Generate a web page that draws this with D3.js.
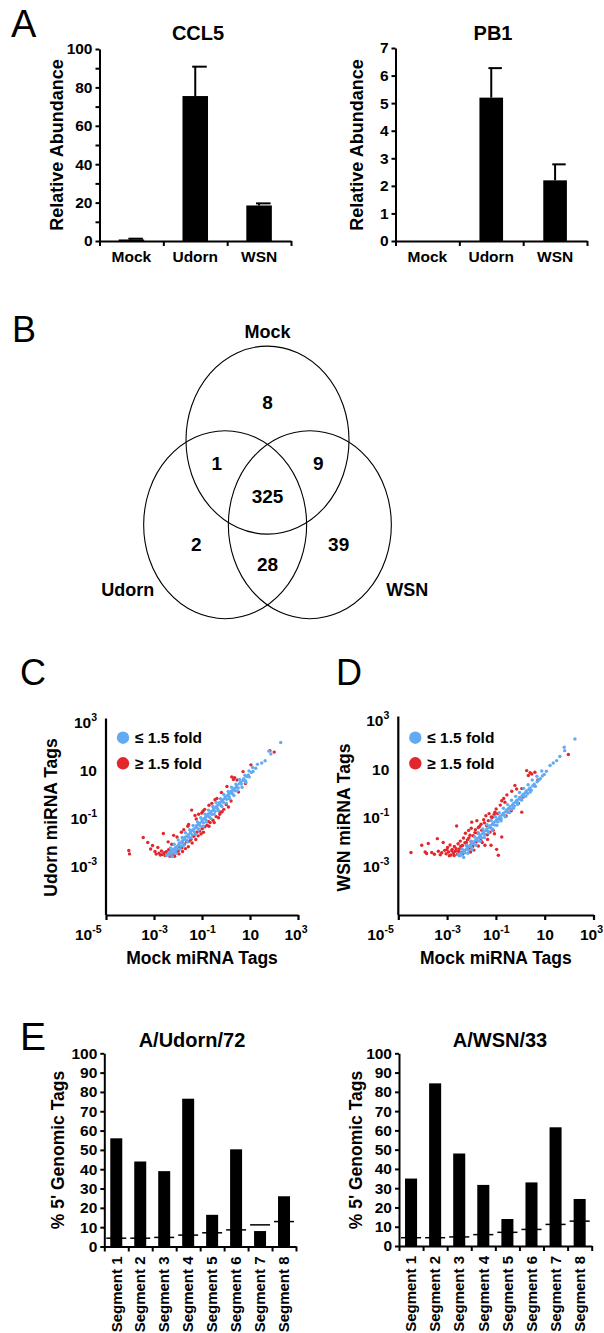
<!DOCTYPE html>
<html><head><meta charset="utf-8">
<script src="https://cdn.jsdelivr.net/npm/d3@7"></script>
<style>
body{margin:0;background:#fff;}
svg{display:block;font-family:"Liberation Sans",Arial,Helvetica,sans-serif;}
</style></head><body>
<svg id="fig" width="604" height="1333"></svg>
<script>
// ================= DATA =================
// Panel A
const groupsA = ["Mock", "Udorn", "WSN"];
const ccl5Values = [0.8, 75.5, 18.5];
const ccl5Errors = [0.4, 15.3, 1.1];
const pb1Values = [0, 5.2, 2.2];
const pb1Errors = [0, 1.07, 0.58];

// Panel B (Venn counts)
const vennSets = ["Mock", "Udorn", "WSN"];
const vennOnly = [8, 2, 39];
const vennPairs = [[0, 1, 1], [0, 2, 9], [1, 2, 28]]; // setA, setB, count
const vennAll = 325;

// Panels C/D : log10 tag values, [mock, infected]
const xTickExps = [-5, -3, -1, 1, 3];
const yTickExps = [-3, -1, 1, 3];
const legendLabels = ["\u2264 1.5 fold", "\u2265 1.5 fold"];
const cBlue = [
[-2.48,-2.53],[-2.41,-2.47],[-2.37,-2.51],[-2.35,-2.39],[-2.29,-2.44],[-2.27,-2.33],[-2.21,-2.41],[-2.19,-2.27],[-2.12,-2.31],[-2.11,-2.20],
[-2.05,-2.15],[-2.03,-2.26],[-1.97,-2.09],[-1.95,-2.03],[-1.88,-2.13],[-1.87,-1.97],[-1.81,-1.91],[-1.79,-2.02],[-1.73,-1.85],[-1.71,-1.77],
[-1.64,-1.89],[-1.63,-1.72],[-1.57,-1.66],[-1.55,-1.78],[-1.49,-1.60],[-1.47,-1.53],[-1.41,-1.66],[-1.39,-1.48],[-1.33,-1.42],[-1.31,-1.55],
[-1.25,-1.36],[-1.23,-1.29],[-1.17,-1.41],[-1.15,-1.24],[-1.09,-1.18],[-1.07,-1.30],[-1.01,-1.12],[-0.99,-1.05],[-0.93,-1.17],[-0.91,-0.99],
[-0.85,-0.94],[-0.83,-1.06],[-0.77,-0.88],[-0.75,-0.81],[-0.69,-0.93],[-0.67,-0.76],[-0.61,-0.70],[-0.59,-0.82],[-0.53,-0.64],[-0.51,-0.57],
[-0.45,-0.69],[-0.43,-0.52],[-0.37,-0.46],[-0.35,-0.58],[-0.29,-0.40],[-0.27,-0.33],[-0.21,-0.45],[-0.19,-0.28],[-0.13,-0.21],[-0.11,-0.32],
[-0.05,-0.16],[-0.03,-0.09],[0.03,-0.19],[0.05,-0.04],[0.11,0.02],[0.13,-0.08],[0.19,0.08],[0.21,0.14],[0.27,0.04],[0.29,0.19],
[0.35,0.26],[0.37,0.16],[0.43,0.31],[0.45,0.38],[0.51,0.28],[0.56,0.46],[0.61,0.52],[0.64,0.44],[0.71,0.59],[0.74,0.66],
[0.81,0.58],[0.87,0.75],[0.93,0.82],[0.97,0.74],[1.06,0.92],[1.13,0.97],[1.24,1.10],[1.31,1.26],[1.49,1.32],[1.63,1.41],
[1.79,1.81],[1.87,1.69],[2.28,2.17],
[-2.31,-2.21],[-2.16,-2.06],[-1.99,-1.88],[-1.83,-1.78],[-1.69,-1.58],[-1.51,-1.46],[-1.37,-1.28],[-1.19,-1.13],[-1.05,-0.96],[-0.87,-0.81],
[-0.73,-0.64],[-0.55,-0.49],[-0.41,-0.32],[-0.23,-0.17],[-0.09,0.01],[0.09,0.13],[0.23,0.31],[0.41,0.44],[0.57,0.63],[0.79,0.81],
[0.96,0.99],[1.11,1.13],
[-2.24,-2.57],[-2.09,-2.43],[-1.91,-2.26],[-1.77,-2.11],[-1.59,-1.96],[-1.45,-1.79],[-1.27,-1.64],[-1.13,-1.46],[-0.95,-1.31],[-0.81,-1.13],
[-0.63,-0.99],[-0.49,-0.81],[-0.31,-0.67],[-0.17,-0.49],[0.01,-0.35],[0.15,-0.17],[0.33,-0.03],[0.47,0.16],[0.67,0.31],[0.83,0.51]
];
const cRed = [
[-4.05,-2.32],[-4.02,-2.46],[-3.45,-1.78],[-3.26,-1.99],[-3.14,-2.26],[-3.06,-2.11],[-2.96,-2.36],[-2.91,-2.47],[-2.84,-2.19],[-2.79,-2.43],
[-2.74,-2.51],[-2.69,-2.34],[-2.66,-2.49],[-2.61,-1.61],[-2.58,-2.41],[-2.54,-2.53],[-2.49,-2.37],[-2.44,-2.49],[-2.39,-2.29],[-2.34,-2.56],
[-2.28,-2.49],[-2.22,-2.46],[-2.18,-1.69],[-2.09,-2.41],[-2.04,-1.76],[-1.99,-2.33],[-1.93,-2.16],[-1.86,-1.56],[-1.84,-2.21],[-1.76,-1.46],
[-1.74,-2.06],[-1.64,-1.96],[-1.59,-1.31],[-1.54,-1.94],[-1.46,-1.86],[-1.43,-0.64],[-1.34,-1.73],[-1.29,-0.86],[-1.22,-1.56],[-1.14,-0.81],
[-1.09,-1.51],[-1.01,-0.76],[-0.99,-1.41],[-0.89,-0.61],[-0.88,-1.33],[-0.79,-1.27],[-0.74,-1.11],[-0.66,-1.16],[-0.59,-0.36],[-0.54,-1.06],
[-0.41,-0.91],[-0.38,-0.16],[-0.26,-0.81],[-0.24,-0.73],[-0.09,-0.61],[0.01,-0.41],[0.10,-0.51],[0.21,-0.26],[0.24,0.74],[0.31,0.63],
[0.36,0.71],[0.46,0.61],[0.52,0.11],[0.71,0.96],[0.81,0.46],[1.83,1.83],[2.01,1.77],
[-2.14,-2.56],[-1.96,-2.46],[-1.81,-2.36],[-1.69,-2.24],[-1.57,-2.16],[-1.41,-2.01],[-1.26,-1.86],[-1.16,-1.71],[-1.04,-1.63],[-0.94,-1.56],
[-0.71,-1.31],[-0.49,-1.16],[-0.31,-0.96],[-0.16,-0.71],[-2.41,-1.96],[-2.26,-2.06],[-1.56,-1.24],[-1.24,-1.01],[-0.96,-0.69],[-0.71,-0.44],
[-0.46,-0.21],[-0.19,0.09],[0.04,0.34],[1.04,1.24]
];
const dBlue = [
[-2.55,-2.52],[-2.49,-2.57],[-2.44,-2.46],[-2.40,-2.53],[-2.36,-2.41],[-2.31,-2.36],[-2.27,-2.44],[-2.22,-2.30],[-2.18,-2.24],[-2.13,-2.33],
[-2.09,-2.18],[-2.04,-2.11],[-2.00,-2.21],[-1.95,-2.05],[-1.91,-1.98],[-1.86,-2.08],[-1.82,-1.92],[-1.77,-1.85],[-1.73,-1.95],[-1.68,-1.79],
[-1.64,-1.72],[-1.59,-1.82],[-1.55,-1.66],[-1.50,-1.59],[-1.46,-1.69],[-1.41,-1.53],[-1.37,-1.46],[-1.32,-1.56],[-1.28,-1.40],[-1.23,-1.33],
[-1.19,-1.43],[-1.14,-1.27],[-1.10,-1.20],[-1.05,-1.30],[-1.01,-1.14],[-0.96,-1.07],[-0.92,-1.17],[-0.87,-1.01],[-0.83,-0.94],[-0.78,-1.04],
[-0.74,-0.88],[-0.69,-0.81],[-0.65,-0.91],[-0.60,-0.75],[-0.56,-0.68],[-0.51,-0.78],[-0.47,-0.62],[-0.42,-0.55],[-0.38,-0.65],[-0.33,-0.49],
[-0.29,-0.42],[-0.24,-0.52],[-0.20,-0.36],[-0.15,-0.29],[-0.11,-0.39],[-0.06,-0.23],[-0.02,-0.16],[0.03,-0.26],[0.07,-0.10],[0.12,-0.03],
[0.16,-0.13],[0.21,0.03],[0.25,0.10],[0.30,0.00],[0.35,0.16],[0.40,0.23],[0.45,0.13],[0.51,0.31],[0.57,0.38],[0.62,0.29],
[0.69,0.48],[0.76,0.55],[0.82,0.61],[0.90,0.72],[0.98,0.78],[1.07,0.91],[1.22,1.15],[1.35,1.25],[1.49,1.35],[1.62,1.52],
[1.80,1.90],[1.82,1.76],[2.24,2.24],
[-2.38,-2.29],[-2.21,-2.13],[-2.03,-1.96],[-1.87,-1.79],[-1.71,-1.63],[-1.53,-1.46],[-1.36,-1.29],[-1.19,-1.11],[-1.02,-0.96],[-0.86,-0.79],
[-0.69,-0.61],[-0.52,-0.46],[-0.36,-0.28],[-0.19,-0.12],[-0.03,0.04],[0.14,0.21],[0.32,0.36],[0.49,0.55],[0.68,0.71],[0.88,0.92],
[-2.32,-2.63],[-2.15,-2.46],[-1.98,-2.31],[-1.81,-2.13],[-1.64,-1.97],[-1.47,-1.81],[-1.30,-1.63],[-1.13,-1.47],[-0.96,-1.31],[-0.79,-1.13],
[-0.62,-0.96],[-0.45,-0.79],[-0.28,-0.61],[-0.11,-0.45],[0.06,-0.27],[0.23,-0.11],[0.41,0.06]
];
const dRed = [
[-4.48,-2.43],[-4.04,-2.13],[-3.90,-2.41],[-3.84,-2.47],[-3.77,-2.06],[-3.63,-2.43],[-3.52,-2.50],[-3.40,-1.86],[-3.36,-2.38],[-3.28,-2.52],
[-3.22,-2.44],[-3.16,-2.02],[-3.10,-2.34],[-3.04,-2.48],[-2.98,-2.22],[-2.94,-2.41],[-2.88,-2.12],[-2.84,-2.53],[-2.79,-2.30],[-2.74,-2.45],
[-2.70,-2.18],[-2.66,-2.38],[-2.61,-1.34],[-2.58,-2.50],[-2.55,-2.07],[-2.50,-2.28],[-2.46,-1.96],[-2.42,-2.42],[-2.37,-2.14],[-2.33,-1.83],
[-2.29,-2.36],[-2.25,-1.64],[-2.21,-2.02],[-2.17,-1.91],[-2.12,-1.52],[-2.08,-2.25],[-2.06,-1.72],[-2.01,-1.43],[-1.99,-1.18],[-1.95,-2.18],
[-1.90,-2.33],[-1.86,-1.61],[-1.80,-1.99],[-1.78,-1.12],[-1.72,-1.40],[-1.66,-1.80],[-1.61,-1.27],[-1.56,-2.02],[-1.50,-1.08],[-1.45,-2.13],
[-1.41,-0.92],[-1.35,-1.70],[-1.28,-0.83],[-1.24,-1.59],[-1.20,-2.13],[-1.15,-0.98],[-1.11,-1.51],[-1.04,-0.77],[-0.97,-2.30],[-0.90,-2.54],
[-0.87,-1.04],[-0.82,-0.48],[-0.76,-1.79],[-0.76,-0.30],[-0.68,-0.21],[-0.63,-0.36],[-0.55,-0.06],[-0.47,-0.63],[-0.35,0.09],[-0.22,0.33],
[-0.15,0.18],[-0.08,-0.40],[0.06,0.20],[0.06,-0.77],[0.12,-0.15],[0.26,0.94],[0.33,0.74],[0.40,0.85],[0.47,0.80],[0.60,0.87],
[0.72,0.55],[1.97,1.60],
[-3.01,-2.31],[-2.91,-2.56],[-2.81,-2.36],[-2.71,-2.55],[-2.63,-2.27],[-2.53,-2.38],[-2.44,-2.17],[-2.36,-2.49],[-2.27,-2.03],[-2.19,-2.14],
[-2.11,-1.83],[-2.02,-1.97],[-1.93,-1.74],[-1.84,-1.49],[-1.75,-1.63],[-1.67,-1.36],[-1.58,-1.51],[-1.47,-1.21],[-1.38,-1.33],[-1.31,-1.12],
[-1.19,-0.97],[-1.07,-0.86],[-0.99,-0.64],[-0.93,-0.83],[-2.16,-2.31],[-2.04,-2.41],[-1.72,-2.16],[-1.62,-1.93],[-1.34,-1.89],[-1.06,-1.66],
[-0.58,-0.93],[-0.37,-0.71]
];

// Panel E
const segments = ["Segment 1","Segment 2","Segment 3","Segment 4","Segment 5","Segment 6","Segment 7","Segment 8"];
const udornPct = [56, 44, 39, 76.5, 16.4, 50.3, 8, 26];
const wsnPct = [35, 84.4, 48, 31.7, 14, 33, 61.6, 24.4];
const expectedPct = [4.3, 4.3, 4.7, 5.9, 7.1, 8.6, 11.2, 12.9];

// ================= DRAWING =================
const svg = d3.select("#fig");
const BLUE = "#62aaf2", RED = "#e2262c";

function styleAxis(g, w) {
  g.selectAll(".domain").attr("stroke", "#000").attr("stroke-width", w);
  g.selectAll(".tick line").attr("stroke", "#000").attr("stroke-width", w);
  g.selectAll("text").attr("fill", "#000").attr("font-weight", "bold")
    .attr("font-family", '"Liberation Sans", Arial, sans-serif');
}

function panelLetter(t, x, y, size) {
  svg.append("text").attr("x", x).attr("y", y).attr("font-size", size)
    .attr("font-weight", "normal").text(t);
}

function boldText(x, y, t, size, anchor = "middle", rot = 0) {
  const el = svg.append("text").attr("font-weight", "bold").attr("font-size", size)
    .attr("text-anchor", anchor).text(t);
  if (rot) el.attr("transform", `translate(${x},${y}) rotate(${rot})`).attr("dy", "0.35em");
  else el.attr("x", x).attr("y", y);
  return el;
}

// ---------- bar chart ----------
function barChart(o) {
  const n = o.cats.length;
  const x = d3.scaleBand().domain(o.cats).range([o.x0, o.x1])
    .paddingInner(o.pad).paddingOuter(o.pad / 2);
  const y = d3.scaleLinear().domain([0, o.yMax]).range([o.yZero, o.yTop]);
  const g = svg.append("g");

  g.selectAll("rect").data(o.vals).join("rect")
    .attr("x", (d, i) => x(o.cats[i])).attr("width", x.bandwidth())
    .attr("y", d => y(d)).attr("height", d => y(0) - y(d)).attr("fill", "#000");

  if (o.errs) {
    o.vals.forEach((v, i) => {
      if (!o.errs[i]) return;
      const cx = x(o.cats[i]) + x.bandwidth() / 2;
      g.append("line").attr("x1", cx).attr("x2", cx).attr("y1", y(v)).attr("y2", y(v + o.errs[i]))
        .attr("stroke", "#000").attr("stroke-width", 2);
      g.append("line").attr("x1", cx - x.bandwidth() * 0.12).attr("x2", cx + x.bandwidth() * 0.45)
        .attr("y1", y(v + o.errs[i])).attr("y2", y(v + o.errs[i]))
        .attr("stroke", "#000").attr("stroke-width", 2);
    });
  }

  if (o.thresh) {
    g.selectAll("line.th").data(o.thresh).join("line").attr("class", "th")
      .attr("x1", (d, i) => o.x0 + i * x.step() + 2)
      .attr("x2", (d, i) => o.x0 + (i + 1) * x.step() - 2)
      .attr("y1", d => y(d)).attr("y2", d => y(d))
      .attr("stroke", "#000").attr("stroke-width", 1.5);
  }

  const yAx = g.append("g").attr("transform", `translate(${o.x0},0)`)
    .call(d3.axisLeft(y).tickValues(d3.range(0, o.yMax + 1e-9, o.tickStep))
      .tickFormat(d => (Math.round(d / o.labelStep * 1000) % 1000 === 0 ? d : ""))
      .tickSize(4).tickSizeOuter(0).tickPadding(3));
  styleAxis(yAx, 2);
  yAx.selectAll("text").attr("font-size", o.tickFont);

  const xb = d3.scaleLinear().domain([0, n]).range([o.x0, o.x1]);
  const xAx = g.append("g").attr("transform", `translate(0,${o.yZero})`)
    .call(d3.axisBottom(xb).tickValues(d3.range(n + 1)).tickFormat("").tickSize(5).tickSizeOuter(0));
  styleAxis(xAx, 2);

  if (o.rotLabels) {
    o.cats.forEach(c => {
      boldText(x(c) + x.bandwidth() / 2, o.yZero + 10, c, o.catFont, "end", -90);
    });
  } else {
    const lab = g.append("g").attr("transform", `translate(0,${o.yZero})`)
      .call(d3.axisBottom(x).tickSize(0).tickPadding(o.catPad));
    lab.select(".domain").remove();
    styleAxis(lab, 2);
    lab.selectAll("text").attr("font-size", o.catFont);
  }

  boldText(o.titleX, o.titleY, o.title, o.titleFont);
  boldText(o.yLabelX, o.yLabelY, o.yLabel, o.yLabelFont, "middle", -90);
}

// ---------- Panel A ----------
panelLetter("A", 11, 37, 38);
barChart({cats: groupsA, vals: ccl5Values, errs: ccl5Errors, x0: 99.5, x1: 291, yZero: 241, yTop: 49,
  yMax: 100, tickStep: 10, labelStep: 20, pad: 0.6, tickFont: 15.5, catFont: 15.5, catPad: 10,
  title: "CCL5", titleX: 198, titleY: 40, titleFont: 20,
  yLabel: "Relative Abundance", yLabelX: 57, yLabelY: 145, yLabelFont: 18});
barChart({cats: groupsA, vals: pb1Values, errs: pb1Errors, x0: 395.5, x1: 587, yZero: 241, yTop: 48,
  yMax: 7, tickStep: 1, labelStep: 1, pad: 0.63, tickFont: 15.5, catFont: 15.5, catPad: 10,
  title: "PB1", titleX: 493, titleY: 40, titleFont: 20,
  yLabel: "Relative Abundance", yLabelX: 357, yLabelY: 145, yLabelFont: 18});

// ---------- Panel B (Venn) ----------
panelLetter("B", 12, 342, 36);
(function venn() {
  const vx = d3.scaleLinear().domain([-1, 1]).range([267.5 - 81.5, 267.5 + 81.5]);
  const vy = d3.scaleLinear().domain([-1, 1]).range([496.5 - 94, 496.5 + 94]);
  const d = 0.6;
  const angles = [-90, 150, 30].map(a => a * Math.PI / 180);
  const centers = angles.map(a => [d * Math.cos(a), d * Math.sin(a)]);
  const g = svg.append("g");
  g.selectAll("ellipse").data(centers).join("ellipse")
    .attr("cx", c => vx(c[0])).attr("cy", c => vy(c[1]))
    .attr("rx", vx(1) - vx(0)).attr("ry", vy(1) - vy(0))
    .attr("fill", "none").attr("stroke", "#000").attr("stroke-width", 1.1);

  const num = (p, t) => g.append("text").attr("x", vx(p[0])).attr("y", vy(p[1])).attr("dy", "0.36em")
    .attr("text-anchor", "middle").attr("font-weight", "bold").attr("font-size", 19).text(t);
  vennOnly.forEach((n, i) => num([centers[i][0] * 1.68, centers[i][1] * 1.68], n));
  vennPairs.forEach(([a, b, n]) => {
    const m = [(centers[a][0] + centers[b][0]) / 2, (centers[a][1] + centers[b][1]) / 2];
    num([m[0] * 2.4, m[1] * 2.4], n);
  });
  num([0, 0], vennAll);
  const nameF = [2.92, 3.3, 3.3];
  vennSets.forEach((s, i) => {
    g.append("text").attr("x", vx(centers[i][0] * nameF[i])).attr("y", vy(centers[i][1] * nameF[i]))
      .attr("dy", "0.36em").attr("text-anchor", "middle").attr("font-weight", "bold")
      .attr("font-size", 18).text(s);
  });
})();

// ---------- Panels C, D ----------
function scatter(o) {
  const x = d3.scaleLog().domain([1e-5, 1e3]).range([o.x0, o.x1]);
  const y = d3.scaleLog().domain([1e-5, 1e3]).range([o.y0, o.y1]);
  const g = svg.append("g");
  const sup = function (dd) {
    const e = Math.round(Math.log10(dd));
    const t = d3.select(this);
    t.text("10");
    if (e !== 1) t.append("tspan").attr("dy", -7).attr("font-size", 10.5).text(e);
  };
  const xAx = g.append("g").attr("transform", `translate(0,${o.y0})`)
    .call(d3.axisBottom(x).tickValues(xTickExps.map(e => Math.pow(10, e)))
      .tickSize(5).tickSizeOuter(0).tickPadding(9));
  styleAxis(xAx, 2.2);
  xAx.selectAll("text").attr("font-size", 15.5).each(sup);
  xAx.selectAll(".tick").filter(dd => dd === 1e-5).select("text")
    .attr("text-anchor", "end").attr("x", -5);
  xAx.selectAll(".tick").filter(dd => dd === 1e3).select("text")
    .attr("text-anchor", "end").attr("x", 9);
  const yAx = g.append("g").attr("transform", `translate(${o.x0},0)`)
    .call(d3.axisLeft(y).tickValues(yTickExps.map(e => Math.pow(10, e)))
      .tickSize(0).tickSizeOuter(0).tickPadding(9));
  styleAxis(yAx, 2.2);
  yAx.select(".domain").attr("d", `M0,${o.y0}V${o.y1 - 4}`);
  yAx.selectAll("text").attr("font-size", 15.5).each(sup);

  const pts = (data, col) => g.append("g").selectAll("circle").data(data).join("circle")
    .attr("cx", p => x(Math.pow(10, p[0]))).attr("cy", p => y(Math.pow(10, p[1])))
    .attr("r", 1.7).attr("fill", col);
  pts(o.red, RED);
  pts(o.blue, BLUE);

  [BLUE, RED].forEach((c, i) => {
    g.append("circle").attr("cx", o.x0 + 17).attr("cy", 737.7 + i * 25.6).attr("r", 6.2).attr("fill", c);
    g.append("text").attr("x", o.x0 + 29).attr("y", 737.7 + i * 25.6).attr("dy", "0.36em")
      .attr("font-weight", "bold").attr("font-size", 15.5).text(legendLabels[i]);
  });

  boldText(o.yLabelX, 817.5, o.yLabel, 17.5, "middle", -90);
  boldText((o.x0 + o.x1) / 2, 964, "Mock miRNA Tags", 17.5);
}
panelLetter("C", 20, 685, 36);
scatter({x0: 106, x1: 298, y0: 915, y1: 722.5, red: cRed, blue: cBlue, yLabel: "Udorn miRNA Tags", yLabelX: 51});
panelLetter("D", 336, 685, 36);
scatter({x0: 398.3, x1: 593.5, y0: 915, y1: 720.5, red: dRed, blue: dBlue, yLabel: "WSN miRNA Tags", yLabelX: 344});

// ---------- Panel E ----------
panelLetter("E", 20, 1050, 39);
barChart({cats: segments, vals: udornPct, thresh: expectedPct, x0: 104.3, x1: 296, yZero: 1246.5, yTop: 1053.3,
  yMax: 100, tickStep: 10, labelStep: 10, pad: 0.5, tickFont: 15.5, catFont: 15, rotLabels: true,
  title: "A/Udorn/72", titleX: 192, titleY: 1047, titleFont: 20,
  yLabel: "% 5' Genomic Tags", yLabelX: 58, yLabelY: 1150, yLabelFont: 17.5});
barChart({cats: segments, vals: wsnPct, thresh: expectedPct, x0: 399, x1: 591.7, yZero: 1246, yTop: 1053.3,
  yMax: 100, tickStep: 10, labelStep: 10, pad: 0.5, tickFont: 15.5, catFont: 15, rotLabels: true,
  title: "A/WSN/33", titleX: 500, titleY: 1047, titleFont: 20,
  yLabel: "% 5' Genomic Tags", yLabelX: 356, yLabelY: 1150, yLabelFont: 17.5});
</script>
</body></html>
